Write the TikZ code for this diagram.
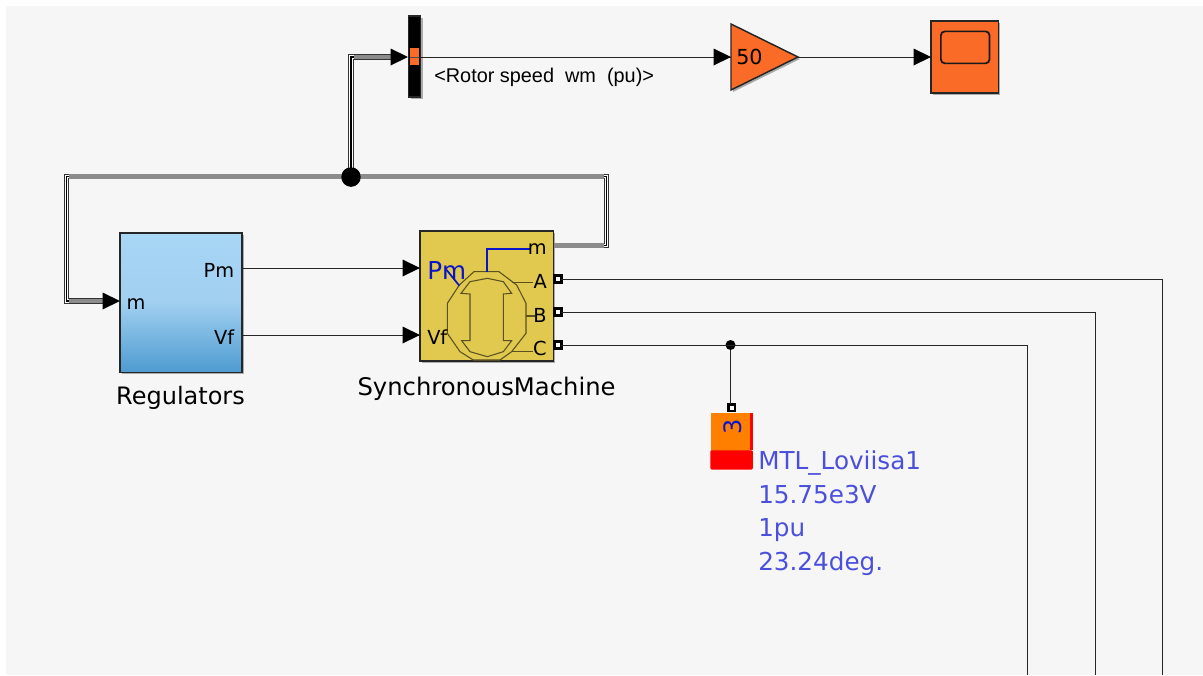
\documentclass[tikz,border=0pt]{standalone}
\usepackage{fontspec}
\setmainfont{DejaVu Sans}
\newfontfamily\arialf{Liberation Sans}
\usetikzlibrary{shadows,arrows.meta,positioning}
\definecolor{bgc}{HTML}{F6F6F6}
\definecolor{orng}{HTML}{F96B26}
\definecolor{yel}{HTML}{E0C94E}
\definecolor{blu}{HTML}{0A14C8}
\definecolor{lbl}{HTML}{4B50DC}
\definecolor{olv}{HTML}{5A5020}
\definecolor{regt}{HTML}{A8D6F5}
\definecolor{regm}{HTML}{A0CFF0}
\definecolor{regb}{HTML}{4E9BD0}
\definecolor{lorange}{HTML}{FF8000}
\definecolor{busg}{HTML}{8C8C8C}
\tikzset{
 sh/.style={drop shadow={shadow xshift=1.5pt,shadow yshift=-1.5pt,opacity=.3,fill=black}},
 blockb/.style={draw=black!85,line width=1.1pt,inner sep=0,outer sep=0,anchor=north west,sh},
 wire/.style={draw=black!85,line width=.75pt},
 txt/.style={inner sep=0,font=\fontsize{14.5}{16}\selectfont,text=black},
 mlabel/.style={inner sep=0,font=\fontsize{14.5}{16}\selectfont,text=black},
 portb/.style={draw=black,line width=2.2pt,fill=white,minimum size=5.2pt,inner sep=0,outer sep=0},
 dotc/.style={circle,fill=black,inner sep=0},
 bluetxt/.style={inner sep=0,anchor=base west,text=lbl,font=\fontsize{18.5}{20}\selectfont},
 busgray/.style={busg,line width=3.7pt},
}
\newcommand{\busline}[1]{%
 \draw[black!80,line width=3.9pt,line join=miter] #1;
 \draw[white,line width=2.4pt,line join=miter] #1;
 \draw[black,line width=.8pt,line join=miter] #1;
}
\begin{document}
\begin{tikzpicture}[x=.75pt,y=-.75pt]
\path[use as bounding box,fill=white] (0,0) rectangle (1203,675);
\fill[bgc] (6,6) rectangle (1203,675);
% blocks
\node[blockb,fill=black,minimum width=9pt,minimum height=60.75pt] (demux) at (408.5,16) {};
\node[fill=orng,draw=none,inner sep=0,minimum width=6.8pt,minimum height=12.8pt,anchor=north west] (demuxo) at (410,48) {};
\draw[black!70,line width=.4pt] (410,57) -- (419,57);
\node[blockb,fill=orng,minimum width=50.5pt,minimum height=54pt] (scope) at (931,21) {};
\node[draw=black!90,line width=1.3pt,rounded corners=3pt,minimum width=36.5pt,minimum height=24pt,inner sep=0,anchor=north west] (screen) at (940,30.5) {};
\path[draw=black!85,fill=orng,line width=1.1pt,line join=miter,sh] (731,24) -- (798,57) -- (731,90) -- cycle;
\coordinate (gainin) at (731,57);
\coordinate (gainout) at (798,57);
\node[txt,anchor=west,font=\fontsize{15.5}{18}\selectfont] (gainv) at (736,57) {50};
\node[blockb,minimum width=91.5pt,minimum height=104.5pt,top color=regt,bottom color=regb,middle color=regm] (reg) at (120,233) {};
\node[blockb,fill=yel,minimum width=100pt,minimum height=97.5pt] (sm) at (420,231) {};
% machine glyph
\begin{scope}[shift={(400,220)},x=.25pt,y=-.25pt]
\fill[yel] (222,155) -- (297,155) -- (350,195) -- (378,250) -- (378,340) -- (335,395) -- (300,420) -- (220,420) -- (180,395) -- (142,340) -- (142,250) -- (178,195) -- cycle;
\draw[olv,line width=.8pt] (222,155) -- (297,155) -- (350,195) -- (378,250) -- (378,340) -- (335,395) -- (300,420) -- (220,420) -- (180,395) -- (142,340) -- (142,250) -- (178,195) -- cycle;
\draw[olv,line width=.8pt] (262,175) -- (310,185) -- (335,220) -- (310,222) -- (310,362) -- (335,362) -- (310,395) -- (262,410) -- (210,395) -- (185,362) -- (210,362) -- (210,222) -- (183,220) -- (210,185) -- cycle;
\draw[olv,line width=.8pt] (335,187) -- (400,187);
\draw[olv,line width=.8pt] (378,288) -- (405,288);
\draw[olv,line width=.8pt] (335,395) -- (400,395);
\draw[blu,line width=1.3pt] (262,155) -- (262,88) -- (390,88);
\draw[blu,line width=1.3pt] (140,150) -- (178,197);
\end{scope}
% ports / text in blocks
\node[txt] (regmm) at (136,304) {m};
\node[txt,anchor=east] (regpm) at (234.5,270) {Pm};
\node[txt,anchor=east] (regvf) at (234.5,337) {Vf};
\node[txt,text=blu,anchor=west,font=\fontsize{18.5}{20}\selectfont] (smpm) at (427,271) {Pm};
\node[mlabel,anchor=west] (smvf) at (427,337) {Vf};
\node[mlabel,anchor=east] (smm) at (547,249) {m};
\node[mlabel,anchor=east] (sma) at (547,281.5) {A};
\node[mlabel,anchor=east] (smb) at (547,315.5) {B};
\node[mlabel,anchor=east] (smc) at (547,348) {C};
\node[txt,font=\fontsize{18}{20}\selectfont] (reglabel) at (180.5,397.5) {Regulators};
\node[txt,font=\fontsize{18.2}{20}\selectfont] (smlabel) at (486.5,388.5) {SynchronousMachine};
\node[inner sep=0,anchor=west,font=\arialf\fontsize{14.9}{16}\selectfont,text=black] (rotor) at (434,77) {<Rotor speed\ \ wm\ \ (pu)>};
% load block
\fill[red] (750,413) rectangle (753,450);
\node[fill=lorange,draw=none,inner sep=0,minimum width=29.3pt,minimum height=28pt,anchor=north west] (loadb) at (711,413) {};
\node[fill=red,draw=none,rounded corners=1pt,inner sep=0,minimum width=32pt,minimum height=14.5pt,anchor=north west] (loadr) at (710,450) {};
\node[rotate=90,text=blu,inner sep=0,font=\fontsize{18}{20}\selectfont] (load3) at (733,427) {3};
\node[bluetxt] (l1) at (758,469) {MTL\_Loviisa1};
\node[bluetxt] (l2) at (758,503) {15.75e3V};
\node[bluetxt] (l3) at (758,536) {1pu};
\node[bluetxt] (l4) at (758,570) {23.24deg.};
% ports
\node[portb] (pa) at (558,279) {};
\node[portb] (pb) at (558,312) {};
\node[portb] (pc) at (558,345) {};
\node[portb] (pl) at (731.5,407.5) {};
% free corners
\coordinate (ae) at (1162,675);
\coordinate (be) at (1095,675);
\coordinate (ce) at (1027,675);
\node[dotc,minimum size=7.5pt] (jc) at (730.5,345) {};
\node[dotc,minimum size=14.5pt] (jb) at (351,177) {};
% thin wires
\draw[wire] (pa.east) -- (1162,279) -- (ae);
\draw[wire] (pb.east) -- (1095,312) -- (be);
\draw[wire] (pc.east) -- (1027,345) -- (ce);
\draw[wire] (jc) -- (jc |- pl.north);
\coordinate (smin1) at (420,268);
\coordinate (smin2) at (420,335);
\coordinate (regout1) at (243,268);
\coordinate (regout2) at (243,335);
\coordinate (demo) at (419,57);
\draw[wire] (regout1) -- (smin1);
\draw[wire] (regout2) -- (smin2);
\draw[wire] (demo) -- (gainin);
\draw[wire] (gainout) -- (scope.west |- gainout);
% bus lines
\coordinate (smout) at (554,245.5);
\coordinate (regin) at (112,301);
\coordinate (demin) at (396,57);
\busline{(smout) -- (606.5,245.5) -- (606.5,176.5) -- (66.5,176.5) -- (66.5,301) -- (regin)}
\busline{(jb.center) -- (jb.center |- demin) -- (demin)}
\draw[busgray] (smout) -- (604,245.5);
\draw[busgray] (69,176.5) -- (604,176.5);
\draw[busgray] (69,301) -- (regin);
\draw[busgray] (353.5,57) -- (demin);
\node[dotc,minimum size=14.5pt] at (jb) {};
% arrowheads
\foreach \x/\y/\n in {120/301/a,420/268/b,420/335/c,408/57/d,731/57/e,931/57/f}{
 \fill[black] (\x,\y) -- (\x-17.5,\y-8.5) -- (\x-17.5,\y+8.5) -- cycle;
}
\end{tikzpicture}
\end{document}
